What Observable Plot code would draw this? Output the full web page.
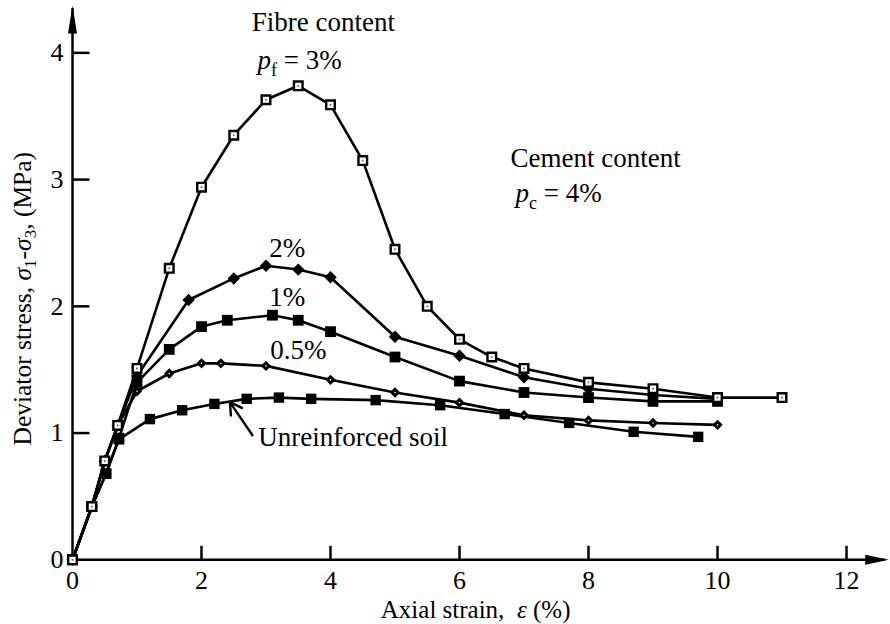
<!DOCTYPE html>
<html><head><meta charset="utf-8">
<script src="https://cdn.jsdelivr.net/npm/d3@7"></script>
<script src="https://cdn.jsdelivr.net/npm/@observablehq/plot@0.6"></script>
<style>body{margin:0;background:#fff;} svg{display:block}</style>
</head><body><div id="chart"></div>
<script>
// ---- data ----
const strain3 = [0, 0.3, 0.5, 0.7, 1.0, 1.5, 2.0, 2.5, 3.0, 3.5, 4.0, 4.5, 5.0, 5.5, 6.0, 6.5, 7.0, 8.0, 9.0, 10.0, 11.0];
const stress3 = [0, 0.42, 0.78, 1.06, 1.51, 2.30, 2.94, 3.35, 3.63, 3.74, 3.59, 3.15, 2.45, 2.00, 1.74, 1.60, 1.51, 1.40, 1.35, 1.28, 1.28];
const strain2 = [0, 0.3, 0.5, 0.7, 1.0, 1.8, 2.5, 3.0, 3.5, 4.0, 5.0, 6.0, 7.0, 8.0, 9.0, 10.0];
const stress2 = [0, 0.42, 0.78, 1.06, 1.45, 2.05, 2.22, 2.32, 2.29, 2.23, 1.76, 1.61, 1.44, 1.35, 1.30, 1.27];
const strain1 = [0, 0.3, 0.52, 0.72, 1.0, 1.5, 2.0, 2.4, 3.1, 3.5, 4.0, 5.0, 6.0, 7.0, 8.0, 9.0, 10.0];
const stress1 = [0, 0.42, 0.68, 0.96, 1.40, 1.66, 1.84, 1.89, 1.93, 1.89, 1.80, 1.60, 1.41, 1.32, 1.28, 1.25, 1.25];
const strain05 = [0, 0.3, 0.5, 0.7, 1.0, 1.5, 2.0, 2.3, 3.0, 4.0, 5.0, 6.0, 7.0, 8.0, 9.0, 10.0];
const stress05 = [0, 0.42, 0.78, 1.06, 1.33, 1.47, 1.55, 1.55, 1.53, 1.42, 1.32, 1.24, 1.14, 1.10, 1.08, 1.065];
const strainU = [0, 0.3, 0.52, 0.72, 1.2, 1.7, 2.2, 2.7, 3.2, 3.7, 4.7, 5.7, 6.7, 7.7, 8.7, 9.7];
const stressU = [0, 0.42, 0.68, 0.95, 1.11, 1.18, 1.23, 1.27, 1.28, 1.27, 1.26, 1.22, 1.15, 1.08, 1.01, 0.97];

const xTicks = [0, 2, 4, 6, 8, 10, 12];
const yTicks = [0, 1, 2, 3, 4];
const xDomain = [0, 12.6];
const yDomain = [0, 4.35];

const xLabel = "Axial strain, ε (%)";
const yLabel = "Deviator stress, σ1-σ3, (MPa)";

const labelsMiddle = [
  {text: "Fibre content", x: 3.89, y: 4.24},
  {text: "2%", x: 3.33, y: 2.46},
  {text: "1%", x: 3.33, y: 2.07},
  {text: "0.5%", x: 3.50, y: 1.65}
];
const labelsStart = [
  {text: "pf = 3%", x: 2.87, y: 3.94},
  {text: "Cement content", x: 6.79, y: 3.17},
  {text: "pc = 4%", x: 6.87, y: 2.89},
  {text: "Unreinforced soil", x: 2.88, y: 0.965}
];
const pointer = [{x1: 2.79, y1: 0.983, x2: 2.44, y2: 1.244}];

const richText = {
  "pf = 3%": '<tspan font-style="italic">p</tspan><tspan font-size="18" dy="7">f</tspan><tspan dy="-7"> = 3%</tspan>',
  "pc = 4%": '<tspan font-style="italic">p</tspan><tspan font-size="18" dy="7">c</tspan><tspan dy="-7"> = 4%</tspan>',
  [yLabel]: 'Deviator stress, <tspan font-style="italic">σ</tspan><tspan font-size="17" dy="5">1</tspan><tspan dy="-5">-</tspan><tspan font-style="italic">σ</tspan><tspan font-size="17" dy="5">3</tspan><tspan dy="-5">, (MPa)</tspan>',
  [xLabel]: 'Axial strain,  <tspan font-style="italic">ε</tspan> (%)'
};

// ---- build tables ----
const mk = (key, xs, ys) => xs.map((x, i) => ({series: key, x, y: ys[i]}));
const rows3 = mk("3%", strain3, stress3);
const rows2 = mk("2%", strain2, stress2);
const rows1 = mk("1%", strain1, stress1);
const rows05 = mk("0.5%", strain05, stress05);
const rowsU = mk("U", strainU, stressU);
const allRows = [...rows3, ...rows2, ...rows1, ...rows05, ...rowsU];

// ---- custom symbols ----
const squareSym = (h) => ({draw(c){ c.moveTo(-h,-h); c.lineTo(h,-h); c.lineTo(h,h); c.lineTo(-h,h); c.closePath(); }});
const diamondSym = (h) => ({draw(c){ c.moveTo(0,-h); c.lineTo(h,0); c.lineTo(0,h); c.lineTo(-h,0); c.closePath(); }});
const tickUp = {draw(c){ c.moveTo(0,0); c.lineTo(0,-14); }};
const tickRight = {draw(c){ c.moveTo(0,0); c.lineTo(17,0); }};
const arrowUp = {draw(c){ c.moveTo(0,-3); c.lineTo(4.5,25); c.lineTo(-4.5,25); c.closePath(); }};
const arrowRight = {draw(c){ c.moveTo(3.5,0); c.lineTo(-20,5); c.lineTo(-20,-5); c.closePath(); }};

const font = "'Liberation Serif', 'Times New Roman', serif";

const plot = Plot.plot({
  width: 890,
  height: 624,
  marginLeft: 72,
  marginRight: 5.3,
  marginTop: 8,
  marginBottom: 64.7,
  x: {domain: xDomain, axis: null},
  y: {domain: yDomain, axis: null},
  style: {fontFamily: font, background: "white", color: "black", overflow: "visible"},
  marks: [
    // axes
    Plot.ruleX([0], {y1: yDomain[0], y2: yDomain[1], stroke: "black", strokeWidth: 2.5}),
    Plot.ruleY([0], {x1: xDomain[0], x2: xDomain[1], stroke: "black", strokeWidth: 2.5}),
    Plot.dot([0], {x: 0, y: yDomain[1], symbol: arrowUp, fill: "black", stroke: "none"}),
    Plot.dot([0], {x: xDomain[1], y: 0, symbol: arrowRight, fill: "black", stroke: "none"}),
    Plot.dot(xTicks.filter(d => d > 0), {x: d => d, y: 0, symbol: tickUp, fill: "none", stroke: "black", strokeWidth: 2.5}),
    Plot.dot(yTicks.filter(d => d > 0), {x: 0, y: d => d, symbol: tickRight, fill: "none", stroke: "black", strokeWidth: 2.5}),
    Plot.text(xTicks, {x: d => d, y: 0, text: d => String(d), dy: 21, fontSize: 26}),
    Plot.text(yTicks, {x: 0, y: d => d, text: d => String(d), dx: -9, textAnchor: "end", fontSize: 26}),
    Plot.text([xLabel], {x: 6.25, y: -0.395, text: d => d, fontSize: 25}),
    Plot.text([yLabel], {x: -0.77, y: 2.06, text: d => d, rotate: -90, fontSize: 25.5}),
    // curves
    Plot.line(allRows, {x: "x", y: "y", z: "series", stroke: "black", strokeWidth: 2.6}),
    // markers
    Plot.dot(rowsU, {x: "x", y: "y", symbol: squareSym(5.2), fill: "black", stroke: "none"}),
    Plot.dot(rows05, {x: "x", y: "y", symbol: diamondSym(5.2), fill: "black", stroke: "none"}),
    Plot.dot(rows05, {x: "x", y: "y", r: 0.8, fill: "white", stroke: "none"}),
    Plot.dot(rows1, {x: "x", y: "y", symbol: squareSym(5.4), fill: "black", stroke: "none"}),
    Plot.dot(rows2, {x: "x", y: "y", symbol: diamondSym(6.2), fill: "black", stroke: "none"}),
    Plot.dot(rows3, {x: "x", y: "y", symbol: squareSym(4.3), fill: "white", stroke: "black", strokeWidth: 2.4}),
    Plot.dot(rows3, {x: "x", y: "y", r: 1.1, fill: "#777", stroke: "none"}),
    // annotations
    Plot.text(labelsMiddle, {x: "x", y: "y", text: "text", fontSize: 27}),
    Plot.text(labelsStart, {x: "x", y: "y", text: "text", textAnchor: "start", fontSize: 27}),
    Plot.arrow(pointer, {x1: "x1", y1: "y1", x2: "x2", y2: "y2", stroke: "black", strokeWidth: 2.4, headLength: 11})
  ]
});

d3.select(plot).selectAll("text").each(function() {
  const t = this.textContent;
  if (richText[t]) this.innerHTML = richText[t];
});

document.getElementById("chart").appendChild(plot);
</script>
</body></html>
